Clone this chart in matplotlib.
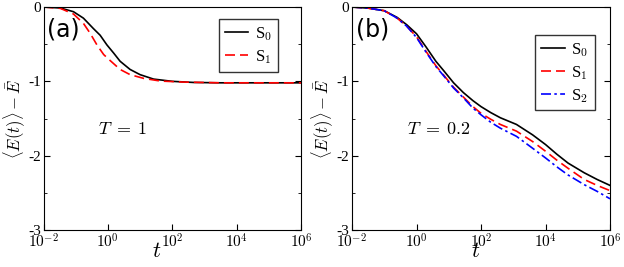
import matplotlib.pyplot as plt

# Données (log10 t, <E(t)> - E barre)
log_t_a0 = [-2, -1.48, -1.07, -0.76, -0.45, -0.24, -0.03, 0.18, 0.38, 0.69, 1.0, 1.42, 2.0, 2.66, 3.5, 6]
s0_a = [0, -0.013, -0.063, -0.15, -0.29, -0.38, -0.51, -0.62, -0.73, -0.84, -0.91, -0.97, -1.0, -1.015, -1.02, -1.02]
log_t_a1 = [-2, -1.48, -1.07, -0.76, -0.55, -0.34, -0.13, 0.07, 0.38, 0.69, 1.11, 1.63, 2.35, 3.5, 6]
s1_a = [0, -0.018, -0.094, -0.22, -0.354, -0.51, -0.64, -0.72, -0.84, -0.91, -0.96, -0.996, -1.01, -1.02, -1.02]

log_t_b = [-2, -1.5, -1, -0.6, -0.3, 0, 0.3, 0.6, 0.85, 1.15, 1.45, 1.75, 2, 2.3, 2.6,
           3.1, 3.6, 4, 4.35, 4.7, 5.2, 5.6, 6]
s0_b = [0, -0.015, -0.05, -0.14, -0.24, -0.36, -0.54, -0.73, -0.86, -1.02, -1.15, -1.26, -1.34, -1.42, -1.49,
        -1.58, -1.72, -1.85, -1.98, -2.10, -2.23, -2.32, -2.40]
s1_b = [0, -0.015, -0.05, -0.15, -0.26, -0.40, -0.60, -0.79, -0.92, -1.08, -1.21, -1.34, -1.43, -1.51, -1.58,
        -1.67, -1.81, -1.94, -2.06, -2.17, -2.32, -2.40, -2.47]
s2_b = [0, -0.015, -0.05, -0.15, -0.26, -0.41, -0.61, -0.80, -0.93, -1.09, -1.22, -1.36, -1.45, -1.55, -1.63,
        -1.74, -1.90, -2.03, -2.15, -2.26, -2.39, -2.48, -2.58]

t_a0 = [10 ** v for v in log_t_a0]
t_a1 = [10 ** v for v in log_t_a1]
t_b = [10 ** v for v in log_t_b]

plt.rcParams['font.family'] = ['Liberation Serif', 'DejaVu Serif']
plt.rcParams['mathtext.fontset'] = 'cm'
plt.rcParams['lines.solid_joinstyle'] = 'round'
plt.rcParams['lines.dash_joinstyle'] = 'round'

fig = plt.figure(figsize=(6.24, 2.67), dpi=100)
ax1 = fig.add_axes([43.5 / 624, 37 / 267, 257.5 / 624, 223 / 267])
ax2 = fig.add_axes([352 / 624, 37 / 267, 258 / 624, 223 / 267])

ax1.plot(t_a0, s0_a, color='k', lw=1.2, label='S$_0$')
ax1.plot(t_a1, s1_a, color='red', lw=1.2, ls=(0, (6, 3)), label='S$_1$')

ax2.plot(t_b, s0_b, color='k', lw=1.2, label='S$_0$')
ax2.plot(t_b, s1_b, color='red', lw=1.2, ls=(0, (6, 3)), label='S$_1$')
ax2.plot(t_b, s2_b, color='blue', lw=1.2, ls=(0, (6, 2, 1.5, 2)), label='S$_2$')

reglages = [(ax1, '(a)', r'$T\;=\;1$', 0.21, (0.91, 0.945), 0.44),
            (ax2, '(b)', r'$T\;=\;0.2$', 0.215, (0.94, 0.873), 0.48)]

for ax, lettre, texte, x_texte, pos_leg, x_label in reglages:
    ax.set_xscale('log')
    ax.set_xlim(1e-2, 1e6)
    ax.set_ylim(-3, 0)
    ax.set_xticks([1e-2, 1, 1e2, 1e4, 1e6])
    ax.set_xticklabels(['$10^{-2}$', '$10^{0}$', '$10^{2}$', '$10^{4}$', '$10^{6}$'])
    ax.minorticks_off()
    ax.set_yticks([0, -1, -2, -3])
    ax.set_yticklabels(['0', '-1', '-2', '-3'])
    ax.set_yticks([-0.5, -1.5, -2.5], minor=True)
    ax.tick_params(direction='in', length=4, labelsize=11, pad=2, right=True)
    ax.tick_params(axis='y', which='minor', direction='in', length=2.5, right=True)
    ax.set_xlabel('$t$', fontsize=16)
    ax.xaxis.set_label_coords(x_label, -0.06)
    ax.set_ylabel(r'$\langle E(t)\rangle-\bar{E}$', fontsize=12, labelpad=1)
    ax.text(0.015, 0.955, lettre, transform=ax.transAxes, fontsize=17,
            family='DejaVu Sans', va='top', ha='left')
    ax.text(x_texte, 0.45, texte, transform=ax.transAxes,
            fontsize=13, va='center', ha='left')
    leg = ax.legend(loc='upper right', bbox_to_anchor=pos_leg, fontsize=12,
                    handlelength=1.4, handletextpad=0.4, borderpad=0.35,
                    labelspacing=0.3, borderaxespad=0, fancybox=False, edgecolor='k')
    leg.get_frame().set_linewidth(1)

plt.savefig('out.png', dpi=100)
